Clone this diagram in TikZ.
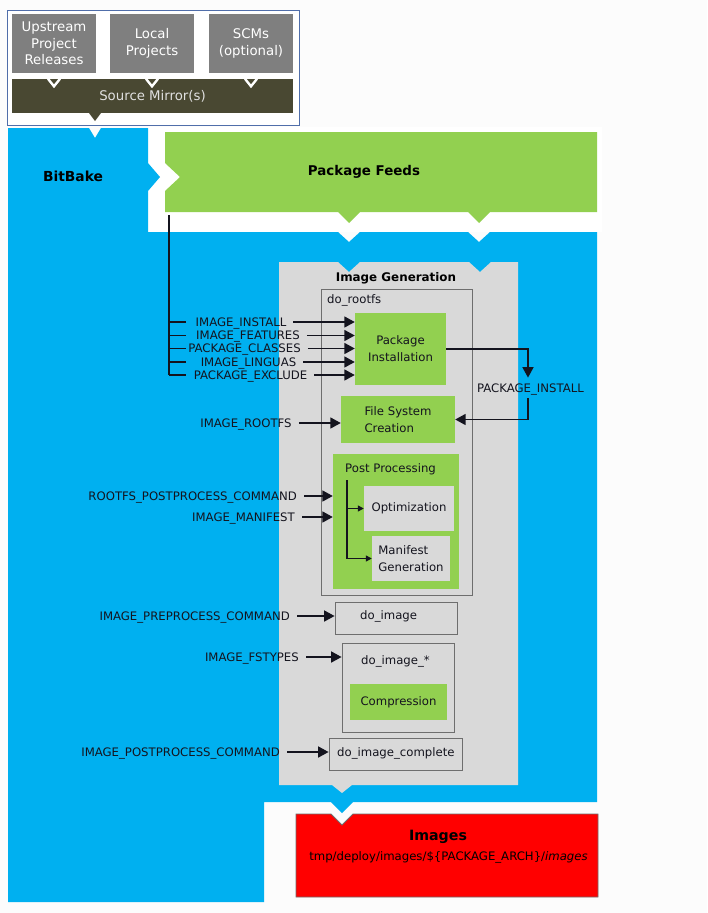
\documentclass[tikz,border=0pt]{standalone}
\usepackage{fontspec}
\setmainfont{DejaVu Sans}
\usetikzlibrary{arrows.meta,calc}
\definecolor{bbblue}{RGB}{0,176,240}
\definecolor{feedgreen}{RGB}{146,208,80}
\definecolor{genGray}{RGB}{217,217,217}
\definecolor{srcgray}{RGB}{127,127,127}
\definecolor{mirrorcol}{RGB}{73,72,50}
\definecolor{frameblue}{RGB}{80,110,170}
\definecolor{pagecol}{RGB}{252,252,252}
\definecolor{ink}{RGB}{20,20,30}
\definecolor{boxline}{RGB}{110,110,110}
\begin{document}
\begin{tikzpicture}[x=1pt,y=-1pt,
  lbl/.style={font=\fontsize{11.7}{17}\selectfont, text=ink, inner sep=0pt},
  var/.style={lbl, text height=8.4pt, text depth=0pt},
  head/.style={font=\bfseries\fontsize{#1}{16}\selectfont, text=black, inner sep=0pt},
  srcbox/.style={fill=srcgray, text=white, font=\fontsize{13.3}{16.5}\selectfont,
    align=center, minimum width=84pt, minimum height=59pt, inner sep=0pt},
  mirrorbox/.style={fill=mirrorcol, text=white!88!black, font=\fontsize{13.3}{16.5}\selectfont,
    minimum width=281pt, minimum height=34pt, inner sep=0pt},
  greenbox/.style={lbl, fill=feedgreen, align=center},
  genbox/.style={lbl, fill=genGray, align=center},
  stepframe/.style={draw=boxline, line width=0.8pt, inner sep=0pt},
  arr/.style={draw=ink, line width=1.7pt, -{Triangle[length=10.5pt,width=11pt]}},
  feed/.style={arr, shorten <=7pt},
  smallarr/.style={draw=ink, line width=1.3pt, -{Triangle[length=6pt,width=6pt]}},
  busline/.style={draw=ink, line width=1.6pt},
  notch/.style={white, line width=2.4pt}
]
% page and canvas
\fill[pagecol] (0,0) rectangle (707,913);
\useasboundingbox (0,0) rectangle (707,913);
\fill[white] (148,127) rectangle (602,232);

% source area
\draw[frameblue, line width=0.8pt, fill=white] (7,10) rectangle (299,125);
\node[srcbox] (up) at (54,43.5) {Upstream\\Project\\Releases};
\node[srcbox] (loc) at (152,43.5) {Local\\Projects};
\node[srcbox] (scm) at (251,43.5) {SCMs\\(optional)};
\node[mirrorbox] (mir) at (152.5,96) {Source Mirror(s)};
\foreach \n in {up,loc,scm}
  \draw[notch] ($(\n.south |- mir.north)+(-6,0)$) -- ($(\n.south |- mir.north)+(0,7.5)$)
    -- ($(\n.south |- mir.north)+(6,0)$);
\fill[mirrorcol] (89,113) -- (101,113) -- (95,121) -- cycle;

% BitBake region
\fill[bbblue] (8,128) -- (89,128) -- (95,138) -- (101,128) -- (148,128) -- (148,163)
  -- (160,177) -- (148,191) -- (148,232) -- (338,232) -- (349,242) -- (360,232)
  -- (468,232) -- (479,242) -- (490,232) -- (597,232) -- (597,802) -- (353,802)
  -- (342,813) -- (331,802) -- (264,802) -- (264,902) -- (8,902) -- cycle;

% package feeds
\fill[feedgreen] (165,132) -- (597,132) -- (597,212) -- (490,212) -- (479,223)
  -- (468,212) -- (360,212) -- (349,223) -- (338,212) -- (165,212) -- (165,191)
  -- (180,177) -- (165,163) -- cycle;

% image generation area
\fill[genGray] (279,262) -- (338,262) -- (349,272) -- (360,262) -- (469,262)
  -- (480,272) -- (491,262) -- (518,262) -- (518,785) -- (352,785) -- (342,793)
  -- (332,785) -- (279,785) -- cycle;

% images output
\filldraw[fill=red, draw=boxline, line width=0.8pt] (296,814) -- (331,814) -- (342,825)
  -- (353,814) -- (598,814) -- (598,897) -- (296,897) -- cycle;

% headings
\node[head=13.8] (bb) at (73,176) {BitBake};
\node[head=13.4] (feeds) at (364,172) {Package Feeds};
\node[head=11.9] (gen) at (396,278) {Image Generation};
\node[head=14.2] (img) at (438,837) {Images};
\node[lbl, text=black] (imgpath) at (448.5,857)
  {tmp/deploy/images/\$\{PACKAGE\_ARCH\}/\textit{images}};

% do_rootfs
\node[stepframe, minimum width=151pt, minimum height=306pt] (rootfs) at (396.5,442) {};
\node[var, anchor=west] (rootfsl) at (327,299) {do\_rootfs};
\node[greenbox, minimum width=91pt, minimum height=72pt] (pinst) at (400.5,349) {Package\\Installation};
\node[greenbox, align=left, minimum width=114pt, minimum height=47pt] (fsc) at (398,419.5) {File System\\Creation};
\node[greenbox, minimum width=126pt, minimum height=135pt] (pp) at (396,521.5) {};
\node[var, anchor=west] (ppl) at (345,468) {Post Processing};
\node[genbox, minimum width=90pt, minimum height=45pt] (opt) at (409,508.5) {Optimization};
\node[genbox, align=left, minimum width=78pt, minimum height=45pt] (man) at (411,558.5) {Manifest\\Generation};
\coordinate (ppbus) at (347,480);
\draw[smallarr] (ppbus) |- (man.west);
\draw[smallarr] (ppbus |- opt.west) -- (opt.west);

% image tasks
\node[stepframe, minimum width=122pt, minimum height=32pt] (doimg) at (396,618) {};
\node[var, anchor=west] (doimgl) at (360,615) {do\_image};
\node[stepframe, minimum width=112pt, minimum height=89pt] (doimgs) at (398,687.5) {};
\node[var, anchor=west] (doimgsl) at (361,660) {do\_image\_*};
\node[greenbox, minimum width=97pt, minimum height=36pt] (comp) at (398.5,702) {Compression};
\node[stepframe, minimum width=133pt, minimum height=32pt] (doimgc) at (395.5,754) {};
\node[var, anchor=west] (doimgcl) at (337,752) {do\_image\_complete};

% variables
\node[var] (vi1) at (241,322) {IMAGE\_INSTALL};
\node[var] (vi2) at (248,335.5) {IMAGE\_FEATURES};
\node[var] (vi3) at (244.5,348.5) {PACKAGE\_CLASSES};
\node[var] (vi4) at (248.5,362) {IMAGE\_LINGUAS};
\node[var] (vi5) at (250.5,375) {PACKAGE\_EXCLUDE};
\node[var] (vroot) at (246,423) {IMAGE\_ROOTFS};
\node[var, anchor=east] (vpost) at (297,496) {ROOTFS\_POSTPROCESS\_COMMAND};
\node[var, anchor=east] (vman) at (295,517) {IMAGE\_MANIFEST};
\node[var, anchor=east] (vpre) at (290,616) {IMAGE\_PREPROCESS\_COMMAND};
\node[var, anchor=east] (vfs) at (299,657) {IMAGE\_FSTYPES};
\node[var, anchor=east] (vpp) at (280,752) {IMAGE\_POSTPROCESS\_COMMAND};
\node[var] (vpi) at (530.5,388) {PACKAGE\_INSTALL};

% feed bus
\coordinate (busTop) at (169,215);
\coordinate (tk) at (186,215);
\draw[busline] (busTop) -- (busTop |- vi5.east);
\foreach \v in {vi1,vi2,vi3,vi4,vi5} {
  \draw[busline] (busTop |- \v.east) -- (tk |- \v.east);
  \draw[feed] (\v.east) -- (\v.east -| pinst.west);
}

% remaining inputs
\draw[feed] (vroot.east) -- (vroot.east -| fsc.west);
\draw[feed] (vpost.east) -- (vpost.east -| pp.west);
\draw[feed] (vman.east) -- (vman.east -| pp.west);
\draw[feed] (vpre.east) -- (vpre.east -| doimg.west);
\draw[feed] (vfs.east) -- (vfs.east -| doimgs.west);
\draw[feed] (vpp.east) -- (vpp.east -| doimgc.west);

% package install loop
\draw[arr] (pinst.east) -| ($(vpi.north)+(-2.5,-6)$);
\draw[arr] ($(vpi.south)+(-2.5,6)$) |- (fsc.east);
\end{tikzpicture}
\end{document}
